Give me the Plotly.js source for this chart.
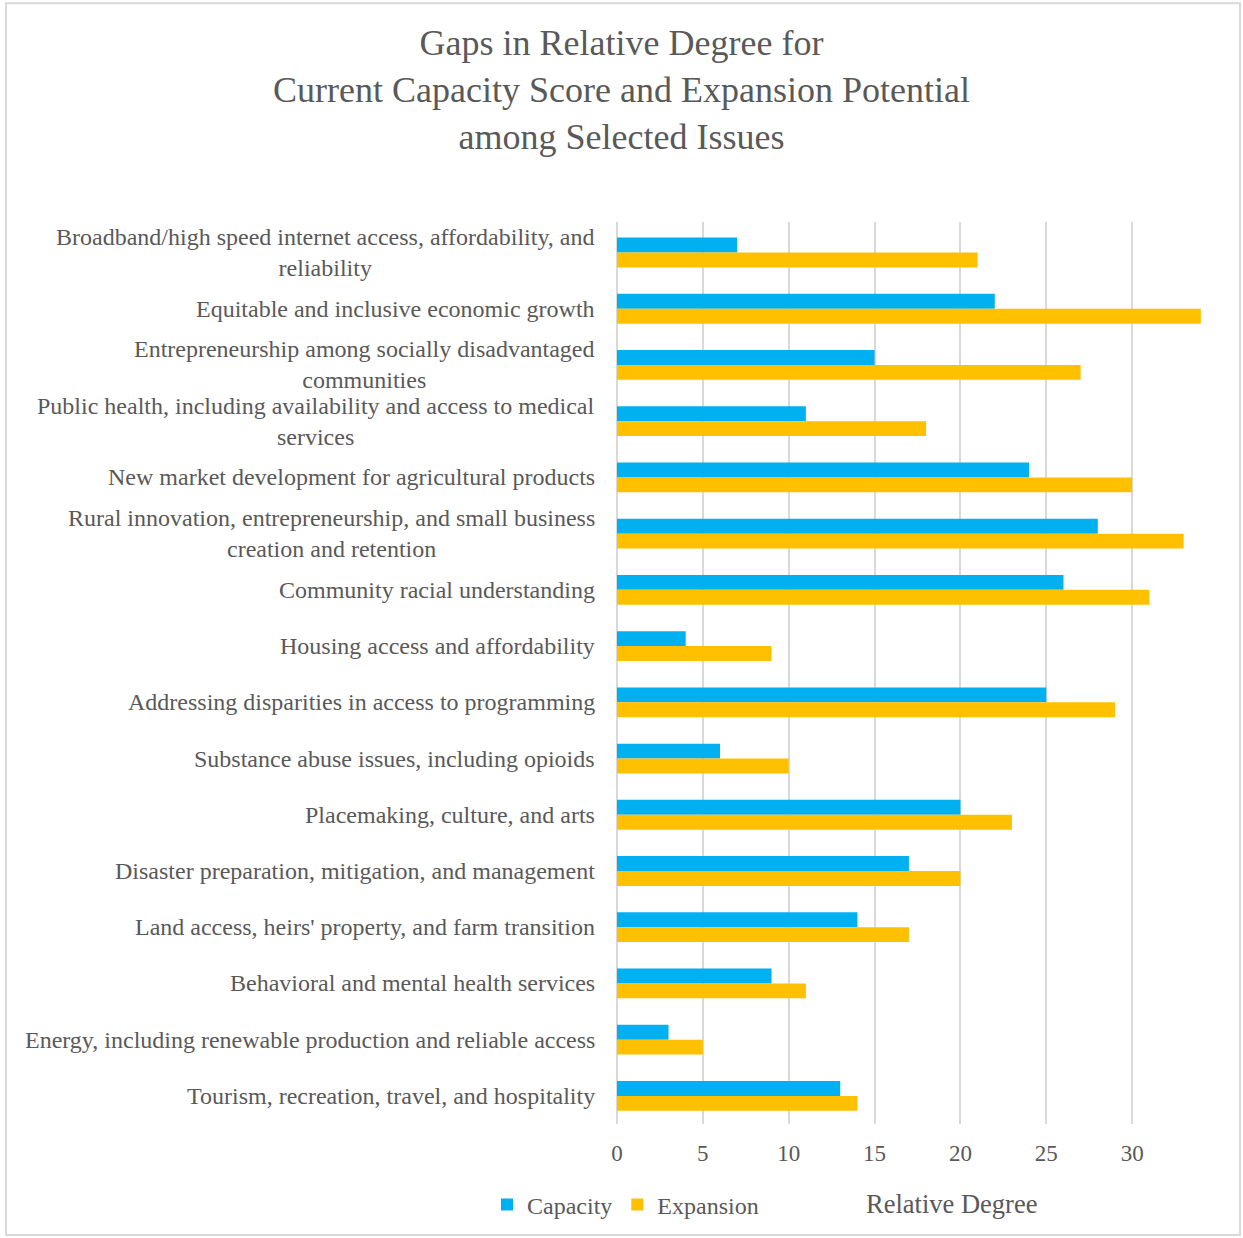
<!DOCTYPE html>
<html>
<head>
<meta charset="utf-8">
<script src="https://cdn.plot.ly/plotly-3.0.1.min.js"></script>
<style>
html,body{margin:0;padding:0;background:#fff;}
#chart{width:1243px;height:1238px;}
</style>
</head>
<body>
<div id="chart"></div>
<script>
const categories = [
  "Broadband/high speed internet access, affordability, and<br>reliability",
  "Equitable and inclusive economic growth",
  "Entrepreneurship among socially disadvantaged<br>communities",
  "Public health, including availability and access to medical<br>services",
  "New market development for agricultural products",
  "Rural innovation, entrepreneurship, and small business<br>creation and retention",
  "Community racial understanding",
  "Housing access and affordability",
  "Addressing disparities in access to programming",
  "Substance abuse issues, including opioids",
  "Placemaking, culture, and arts",
  "Disaster preparation, mitigation, and management",
  "Land access, heirs' property, and farm transition",
  "Behavioral and mental health services",
  "Energy, including renewable production and reliable access",
  "Tourism, recreation, travel, and hospitality"
];
const capacity  = [7, 22, 15, 11, 24, 28, 26, 4, 25, 6, 20, 17, 14, 9, 3, 13];
const expansion = [21, 34, 27, 18, 30, 33, 31, 9, 29, 10, 23, 20, 17, 11, 5, 14];
const xTicks = [0, 5, 10, 15, 20, 25, 30];

const W = 1243, H = 1238;
const L = 617, R = 1218, T = 222, B = 1125;
const pw = R - L, ph = B - T;
const px2x = p => (p - L) / pw;
const px2y = p => (B - p) / ph;

const grey = "#595959";
const font = "Liberation Serif";

const traces = [
  {type: "bar", orientation: "h", name: "Capacity", y: categories, x: capacity,
   marker: {color: "#00B0F0"}},
  {type: "bar", orientation: "h", name: "Expansion", y: categories, x: expansion,
   marker: {color: "#FFC000"}}
];

const annotations = categories.map(c => ({
  text: c, xref: "paper", yref: "y", x: px2x(597), y: c,
  xanchor: "right", yanchor: "middle", align: "center", showarrow: false,
  font: {family: font, size: 24, color: grey}
}));
annotations.push({
  text: "Relative Degree", xref: "paper", yref: "paper",
  x: px2x(951), y: px2y(1205), xanchor: "center", yanchor: "middle",
  showarrow: false, font: {family: font, size: 26.5, color: grey}
});

const layout = {
  width: W, height: H,
  margin: {l: L, r: W - R, t: T, b: H - B, pad: 0},
  paper_bgcolor: "#fff", plot_bgcolor: "#fff",
  font: {family: font, color: grey},
  title: {
    text: "Gaps in Relative Degree for<br>Current Capacity Score and Expansion Potential<br>among Selected Issues",
    font: {family: font, size: 36, color: grey},
    x: 0.5, xref: "container", xanchor: "center",
    y: 1 - 55 / H, yref: "container", yanchor: "top"
  },
  barmode: "group", bargap: 0.47, bargroupgap: 0,
  xaxis: {
    range: [0, 35], tickvals: xTicks, ticktext: xTicks.map(String),
    showgrid: true, gridcolor: "#d9d9d9", gridwidth: 2,
    zeroline: true, zerolinecolor: "#d9d9d9", zerolinewidth: 2,
    showline: false, ticks: "", ticklabelstandoff: 13,
    tickfont: {family: font, size: 23, color: grey}, fixedrange: true
  },
  yaxis: {
    type: "category", autorange: "reversed", showticklabels: false,
    showgrid: false, zeroline: false, showline: false, ticks: "", fixedrange: true
  },
  showlegend: true,
  legend: {
    orientation: "h", xref: "paper", yref: "paper",
    x: px2x(487), y: px2y(1205), xanchor: "left", yanchor: "middle",
    font: {family: font, size: 24, color: grey},
    traceorder: "normal", itemwidth: 30, bgcolor: "rgba(0,0,0,0)"
  },
  annotations: annotations,
  shapes: [{
    type: "rect", xref: "paper", yref: "paper",
    x0: px2x(6), x1: px2x(1240), y0: px2y(1236), y1: px2y(3),
    line: {color: "#d9d9d9", width: 2}, fillcolor: "rgba(0,0,0,0)", layer: "below"
  }]
};

Plotly.newPlot("chart", traces, layout, {displayModeBar: false, staticPlot: true});
</script>
</body>
</html>
